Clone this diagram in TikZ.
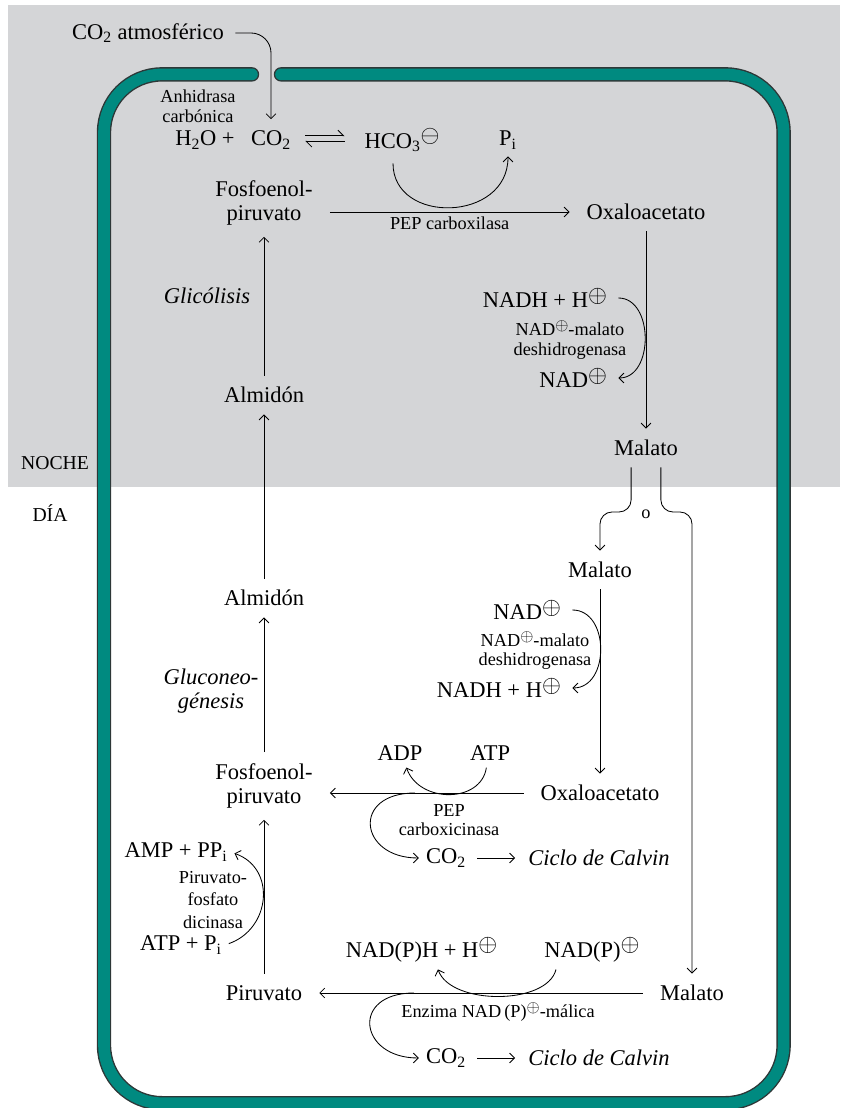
\documentclass[tikz,border=0pt]{standalone}
\usepackage{fontspec}
\setmainfont{Liberation Serif}
\usepackage{tikz}
\usetikzlibrary{arrows.meta}
\definecolor{nightgray}{RGB}{212,213,215}
\definecolor{wallteal}{RGB}{0,138,128}
\definecolor{walledge}{RGB}{45,55,55}
\newcommand{\plusc}{\raisebox{0.55ex}{$\oplus$}}
\newcommand{\minusc}{\raisebox{0.55ex}{$\ominus$}}

\begin{document}
\begin{tikzpicture}[
  mol/.style={font=\fontsize{16}{17}\selectfont, align=center, inner sep=2pt},
  enz/.style={font=\fontsize{13}{14}\selectfont, align=center, inner sep=0pt},
  proc/.style={font=\fontsize{16}{17}\selectfont\itshape, align=center},
  side/.style={font=\fontsize{14}{16}\selectfont},
  arrow/.style={-{Straight Barb[length=3.5pt, width=7pt]}, line width=0.6pt, shorten >=6pt, shorten <=6pt},
  eqarrow/.style={-{Straight Barb[harpoon, length=4pt, width=8pt]}, line width=0.6pt},
  wall/.style={line cap=round, rounded corners=1.45cm, draw=walledge, double=wallteal, line width=0.035cm, double distance=0.29cm}
]

% Background
\useasboundingbox (0,0) rectangle (21,27.7);
\fill[nightgray] (0.2,15.525) rectangle (21,27.575);

% Cell wall
\draw[wall] (6.3,25.84) -- (2.6,25.84) -- (2.6,0.12) -- (19.59,0.12) -- (19.59,25.84) -- (7.025,25.84);

% Night / day
\node[side] (noche) at (1.375,16.125) {NOCHE};
\node[side] (dia) at (1.25,14.875) {DÍA};

% Night
\node[mol] (atm) at (3.7,26.875) {CO\textsubscript{2} atmosférico};
\node[enz] (anh) at (4.95,25.05) {Anhidrasa\\carbónica};
\node[mol] (h2o) at (5.125,24.2) {H\textsubscript{2}O +};
\node[mol] (co2) at (6.775,24.2) {CO\textsubscript{2}};
\node[mol] (hco3) at (10.05,24.2) {HCO\textsubscript{3}\minusc};
\node[mol] (pi) at (12.7,24.2) {P\textsubscript{i}};
\node[mol] (pep1) at (6.6,22.625) {Fosfoenol-\\piruvato};
\node[mol] (oxa1) at (16.15,22.4) {Oxaloacetato};
\node[mol, anchor=east] (nadh1) at (15.25,20.25) {NADH + H\plusc};
\node[enz] (mdh1) at (14.25,19.2) {NAD\plusc-malato\\deshidrogenasa};
\node[mol, anchor=east] (nad1) at (15.25,18.25) {NAD\plusc};
\node[mol] (mal1) at (16.15,16.5) {Malato};
\node[proc] (glic) at (5.175,20.3) {Glicólisis};
\node[mol] (alm1) at (6.6,17.825) {Almidón};

% Day
\node[mol] (alm2) at (6.6,12.75) {Almidón};
\node[proc] (glu) at (5.275,10.425) {Gluconeo-\\génesis};
\node[mol] (pep2) at (6.6,8.05) {Fosfoenol-\\piruvato};
\node[mol] (amp) at (4.4,6.4) {AMP + PP\textsubscript{i}};
\node[enz, font=\fontsize{13}{16}\selectfont] (ppdk) at (5.325,5.2) {Piruvato-\\fosfato\\dicinasa};
\node[mol] (atp2) at (4.525,4.075) {ATP + P\textsubscript{i}};
\node[mol] (pir) at (6.6,2.875) {Piruvato};
\node[mol] (mal2) at (15.0,13.45) {Malato};
\node[mol, anchor=east] (nad2) at (14.1,12.45) {NAD\plusc};
\node[enz] (mdh2) at (13.375,11.43) {NAD\plusc-malato\\deshidrogenasa};
\node[mol, anchor=east] (nadh2) at (14.1,10.5) {NADH + H\plusc};
\node[mol] (oxa2) at (15.0,7.875) {Oxaloacetato};
\node[mol] (adp) at (10.0,8.875) {ADP};
\node[mol] (atp) at (12.25,8.875) {ATP};
\node[enz] (pepck) at (11.225,7.2) {PEP\\carboxicinasa};
\node[mol] (co2b) at (11.15,6.25) {CO\textsubscript{2}};
\node[proc] (calv1) at (14.975,6.25) {Ciclo de Calvin};
\node[mol] (mal3) at (17.3,2.875) {Malato};
\node[mol] (nadph) at (10.54,3.95) {NAD(P)H + H\plusc};
\node[mol] (nadp) at (14.8,3.95) {NAD(P)\plusc};
\node[enz] (me) at (12.45,2.4) {Enzima NAD\,(P)\plusc-málica};
\node[mol] (co2c) at (11.15,1.25) {CO\textsubscript{2}};
\node[proc] (calv2) at (14.975,1.25) {Ciclo de Calvin};
\node[enz] (alt) at (16.15,14.85) {o};

\coordinate (split) at (16.15,14.9);
\coordinate (b1) at (10.375,7.875);
\coordinate (b2) at (10.35,2.875);

% Arrows, night
\draw[arrow, rounded corners=0.5cm] (atm.east) -| (co2.north);
\draw[eqarrow, shorten <=8pt, shorten >=12pt] ([yshift=3pt]co2.east) -- ([yshift=3pt]hco3.west);
\draw[eqarrow, shorten <=12pt, shorten >=8pt] ([yshift=-1pt]hco3.west) -- ([yshift=-1pt]co2.east);
\draw[arrow, shorten >=3pt] ([xshift=-0.225cm]hco3.south) .. controls +(0,-1.75) and +(0,-1.75) .. (pi.south);
\draw[arrow, shorten <=10pt, shorten >=10pt] (oxa1.west -| pep1.east) -- node[enz, below=3pt] (pepc) {PEP carboxilasa} (oxa1.west);
\draw[arrow] (oxa1) -- (mal1);
\draw[arrow] (nadh1.east) .. controls +(1.1,0) and +(1.1,0) .. (nad1.east);
\draw[arrow] (alm1) -- (pep1);
\draw[arrow] (alm2) -- (alm1);

% Arrows, day
\draw[arrow, rounded corners=0.3cm] ([xshift=-10.6pt]mal1.south) |- (mal2.north |- split) -- (mal2.north);
\draw[arrow, rounded corners=0.3cm] ([xshift=10.6pt]mal1.south) |- (mal3.north |- split) -- (mal3.north);
\draw[arrow] (mal2) -- (oxa2);
\draw[arrow] (nad2.east) .. controls +(1.15,0) and +(1.15,0) .. (nadh2.east);
\draw[arrow, shorten <=10pt, shorten >=10pt] (oxa2.west) -- (oxa2.west -| pep2.east);
\draw[arrow, shorten <=3pt, shorten >=3pt] ([xshift=-0.075cm]atp.south) .. controls +(-0.15,-1.0) and +(0.35,-1.0) .. ([xshift=0.125cm]adp.south);
\draw[arrow, shorten <=0pt, shorten >=3pt] (b1) .. controls +(-1.6,0) and +(-1.6,0) .. (co2b.west);
\draw[arrow] (co2b) -- (calv1);
\draw[arrow] (pir) -- (pep2);
\draw[arrow] (pep2) -- (alm2);
\draw[arrow, shorten <=3pt, shorten >=3pt] (atp2.east) .. controls +(1.15,0.4) and +(1.15,-0.4) .. (amp.east);
\draw[arrow, shorten <=10pt, shorten >=10pt] (mal3) -- (pir);
\draw[arrow, shorten <=3pt, shorten >=3pt] ([xshift=-0.875cm]nadp.south) .. controls +(-0.25,-1.0) and +(0.35,-1.0) .. ([xshift=0.375cm]nadph.south);
\draw[arrow, shorten <=0pt, shorten >=3pt] (b2) .. controls +(-1.6,0) and +(-1.6,0) .. (co2c.west);
\draw[arrow] (co2c) -- (calv2);

\end{tikzpicture}
\end{document}
